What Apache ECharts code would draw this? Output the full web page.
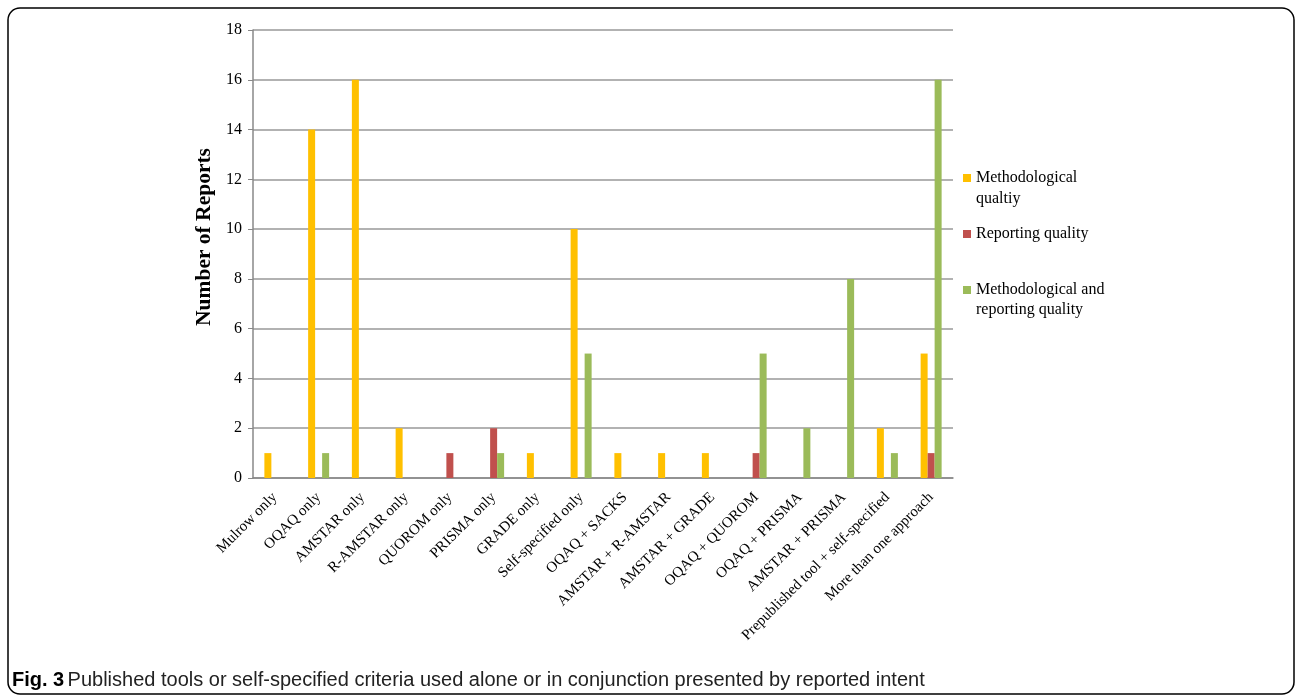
<!DOCTYPE html>
<html>
<head>
<meta charset="utf-8">
<script src="https://cdn.jsdelivr.net/npm/echarts@6/dist/echarts.min.js"></script>
<style>
html,body{margin:0;padding:0;background:#fff;}
#chart{width:1296px;height:699px;}
</style>
</head>
<body>
<div id="chart"></div>
<script>
var categories = ["Mulrow only","OQAQ only","AMSTAR only","R-AMSTAR only","QUOROM only","PRISMA only","GRADE only","Self-specified only","OQAQ + SACKS","AMSTAR + R-AMSTAR","AMSTAR + GRADE","OQAQ + QUOROM","OQAQ + PRISMA","AMSTAR + PRISMA","Prepublished tool + self-specified","More than one approach"];
var methodological = [1,14,16,2,0,0,1,10,1,1,1,0,0,0,2,5];
var reporting = [0,0,0,0,1,2,0,0,0,0,0,1,0,0,0,1];
var both = [0,1,0,0,0,1,0,5,0,0,0,5,2,8,1,16];
var seriesNames = ["Methodological qualtiy","Reporting quality","Methodological and reporting quality"];
var legendFirstLines = ["Methodological","Reporting quality","Methodological and"];
var legendSecondLines = ["qualtiy","","reporting quality"];
var yTicks = [0,2,4,6,8,10,12,14,16,18];

var chart = echarts.init(document.getElementById('chart'));
var serif = "'Liberation Serif','Times New Roman',serif";
var sans = "'Liberation Sans',Arial,sans-serif";
function mk(name, data, color){
  return {name:name,type:'bar',data:data,barWidth:7,barGap:'0%',
    itemStyle:{color:color,borderWidth:0},silent:true};
}
chart.setOption({
  animation:false,
  textStyle:{fontFamily:serif},
  grid:{left:253,right:343,top:30,bottom:221},
  legend:{
    orient:'vertical',left:963,top:168,padding:0,itemWidth:8,itemHeight:8,itemGap:36,
    icon:'rect',
    textStyle:{fontFamily:serif,fontSize:16,color:'#000',lineHeight:20},
    formatter:function(n){ return legendFirstLines[seriesNames.indexOf(n)]; },
    data:seriesNames
  },
  xAxis:{type:'category',data:categories,
    axisLine:{lineStyle:{color:'#888',width:1.5}},
    axisTick:{show:false},
    axisLabel:{rotate:45,interval:0,color:'#000',fontFamily:serif,fontSize:15,margin:17}
  },
  yAxis:{type:'value',min:0,max:18,interval:2,
    name:'Number of Reports',nameLocation:'middle',nameGap:33,
    nameTextStyle:{fontFamily:serif,fontSize:21.5,fontWeight:'bold',color:'#000',padding:[0,0,0,34]},
    axisLine:{show:true,lineStyle:{color:'#888',width:1.5}},
    axisTick:{show:true,length:5,lineStyle:{color:'#888'}},
    axisLabel:{color:'#000',fontFamily:serif,fontSize:16,margin:11,
      formatter:function(v){return yTicks.indexOf(v)>=0?String(v):'';}},
    splitLine:{lineStyle:{color:'#999',width:1.5}}
  },
  series:[mk(seriesNames[0],methodological,'#FFC000'),mk(seriesNames[1],reporting,'#C0504D'),mk(seriesNames[2],both,'#9BBB59')],
  graphic:[
    {type:'rect',shape:{x:8,y:8,width:1286,height:686,r:12},style:{fill:'none',stroke:'#000',lineWidth:1.5},silent:true},
    {type:'text',left:976,top:191,style:{text:legendSecondLines[0],font:"16px 'Liberation Serif',serif",fill:'#000'},silent:true},
    {type:'text',left:976,top:302,style:{text:legendSecondLines[2],font:"16px 'Liberation Serif',serif",fill:'#000'},silent:true},
    {type:'text',left:12,top:670,style:{rich:{b:{fontWeight:'bold',fontFamily:sans,fontSize:20,fill:'#000'},n:{fontFamily:sans,fontSize:20,fill:'#222'}},text:'{b|Fig. 3} {n|Published tools or self-specified criteria used alone or in conjunction presented by reported intent}'}}
  ]
});
</script>
</body>
</html>
